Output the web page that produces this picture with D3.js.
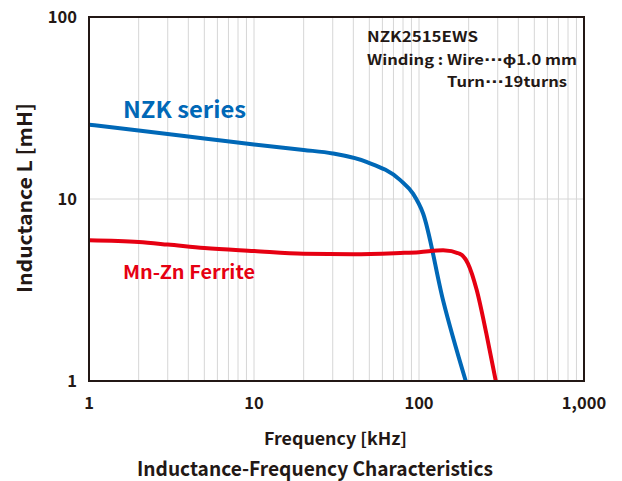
<html>
	<head>
		<title></title>
		<script type="text/javascript" src="https://d3js.org/d3.v7.min.js"></script>
		<style>
			body { margin: 0; background: #fff; }
			text { font-family: "Noto Sans CJK JP", "Noto Sans", sans-serif; font-weight: 700; fill: #231815; }
			tspan.dots { font-family: "DejaVu Sans", sans-serif; }
		</style>
	</head>
	<body>
		<div></div>
		<script>
			//Data (frequency kHz, inductance mH)
			var nzkFreq = [1, 2, 5, 10, 20, 30, 48, 77, 92, 106, 140, 192];
			var nzkL    = [25.6, 23.8, 21.5, 19.9, 18.6, 17.8, 16.0, 12.7, 10.7, 8.3, 2.77, 1.0];
			var ferFreq = [1, 2, 3, 5, 10, 20, 40, 77, 100, 140, 177, 198, 224, 256, 292];
			var ferL    = [5.93, 5.8, 5.62, 5.38, 5.18, 5.0, 4.97, 5.05, 5.1, 5.23, 5.0, 4.42, 3.15, 1.82, 1.0];
			var xTicks = [1, 10, 100, 1000];
			var xTickLabels = ["1", "10", "100", "1,000"];
			var yTicks = [1, 10, 100];

			//Dimensions of the canvas and the plot box
			var width = 622, height = 481;
			var plotLeft = 89, plotRight = 584, plotTop = 17, plotBottom = 381;

			var canvas = d3.select("div").append("svg")
				.attr("width", width)
				.attr("height", height);

			var x = d3.scaleLog().domain([1, 1000]).range([plotLeft, plotRight]);
			var y = d3.scaleLog().domain([1, 100]).range([plotBottom, plotTop]);

			//Vertical grid lines (2..9 of each decade, plus 10 and 100)
			var gridX = [];
			for (var d = 1; d < 1000; d *= 10) {
				for (var k = 2; k <= 9; k++) gridX.push(d * k);
			}
			gridX.push(10, 100);
			canvas.append("g").selectAll("line").data(gridX).enter().append("line")
				.attr("x1", function(d){ return x(d); })
				.attr("x2", function(d){ return x(d); })
				.attr("y1", plotTop).attr("y2", plotBottom)
				.attr("stroke", "#d6d6d6").attr("stroke-width", 1);
			//Horizontal grid line at 10
			canvas.append("line")
				.attr("x1", plotLeft).attr("x2", plotRight)
				.attr("y1", y(10)).attr("y2", y(10))
				.attr("stroke", "#d6d6d6").attr("stroke-width", 1);

			//Curves
			var line = d3.line()
				.x(function(d){ return x(d[0]); })
				.y(function(d){ return y(d[1]); })
				.curve(d3.curveMonotoneX);

			canvas.append("clipPath").attr("id", "plot")
				.append("rect").attr("x", plotLeft).attr("y", plotTop)
				.attr("width", plotRight - plotLeft).attr("height", plotBottom - plotTop);

			canvas.append("path")
				.datum(d3.zip(nzkFreq, nzkL))
				.attr("d", line)
				.attr("clip-path", "url(#plot)")
				.attr("fill", "none").attr("stroke", "#0068b7").attr("stroke-width", 4);
			canvas.append("path")
				.datum(d3.zip(ferFreq, ferL))
				.attr("d", line)
				.attr("clip-path", "url(#plot)")
				.attr("fill", "none").attr("stroke", "#e60012").attr("stroke-width", 4);

			//Frame
			canvas.append("rect")
				.attr("x", plotLeft).attr("y", plotTop)
				.attr("width", plotRight - plotLeft).attr("height", plotBottom - plotTop)
				.attr("fill", "none").attr("stroke", "#231815").attr("stroke-width", 2);

			//Tick labels
			canvas.append("g").selectAll("text").data(xTicks).enter().append("text")
				.attr("x", function(d){ return x(d); })
				.attr("y", 409)
				.attr("text-anchor", "middle")
				.style("font-size", "16.5px")
				.text(function(d, i){ return xTickLabels[i]; });
			canvas.append("g").selectAll("text").data(yTicks).enter().append("text")
				.attr("x", 77)
				.attr("y", function(d){ return y(d) + 6; })
				.attr("text-anchor", "end")
				.style("font-size", "16.5px")
				.text(function(d){ return d; });

			//Axis titles (the source lettering is a bit wider, so lengths are fixed)
			canvas.append("text")
				.attr("x", 264).attr("y", 444.5)
				.attr("textLength", 143).attr("lengthAdjust", "spacingAndGlyphs")
				.style("font-size", "17px")
				.text("Frequency [kHz]");
			canvas.append("text")
				.attr("transform", "translate(32,293) rotate(-90)")
				.attr("textLength", 190).attr("lengthAdjust", "spacingAndGlyphs")
				.style("font-size", "20px")
				.text("Inductance L [mH]");
			canvas.append("text")
				.attr("x", 137).attr("y", 476)
				.attr("textLength", 356).attr("lengthAdjust", "spacingAndGlyphs")
				.style("font-size", "20px")
				.text("Inductance-Frequency Characteristics");

			//Series labels
			canvas.append("text")
				.attr("x", 123).attr("y", 118)
				.attr("textLength", 123).attr("lengthAdjust", "spacingAndGlyphs")
				.style("font-size", "23px").style("fill", "#0068b7")
				.text("NZK series");
			canvas.append("text")
				.attr("x", 123).attr("y", 278.5)
				.attr("textLength", 132).attr("lengthAdjust", "spacingAndGlyphs")
				.style("font-size", "18.5px").style("fill", "#e60012")
				.text("Mn-Zn Ferrite");

			//Annotation
			var note = canvas.append("g").style("font-size", "14.5px");
			note.append("text").attr("x", 367).attr("y", 42)
				.attr("textLength", 111).attr("lengthAdjust", "spacingAndGlyphs")
				.text("NZK2515EWS");
			var wind = note.append("text").attr("x", 367).attr("y", 65)
				.attr("textLength", 210).attr("lengthAdjust", "spacingAndGlyphs");
			wind.append("tspan").text("Winding : Wire");
			wind.append("tspan").attr("class", "dots").text("\u00B7\u00B7\u00B7");
			wind.append("tspan").text("\u03D51.0 mm");
			var turn = note.append("text").attr("x", 447).attr("y", 86.5)
				.attr("textLength", 120).attr("lengthAdjust", "spacingAndGlyphs");
			turn.append("tspan").text("Turn");
			turn.append("tspan").attr("class", "dots").text("\u00B7\u00B7\u00B7");
			turn.append("tspan").text("19turns");
		</script>
	</body>
</html>
